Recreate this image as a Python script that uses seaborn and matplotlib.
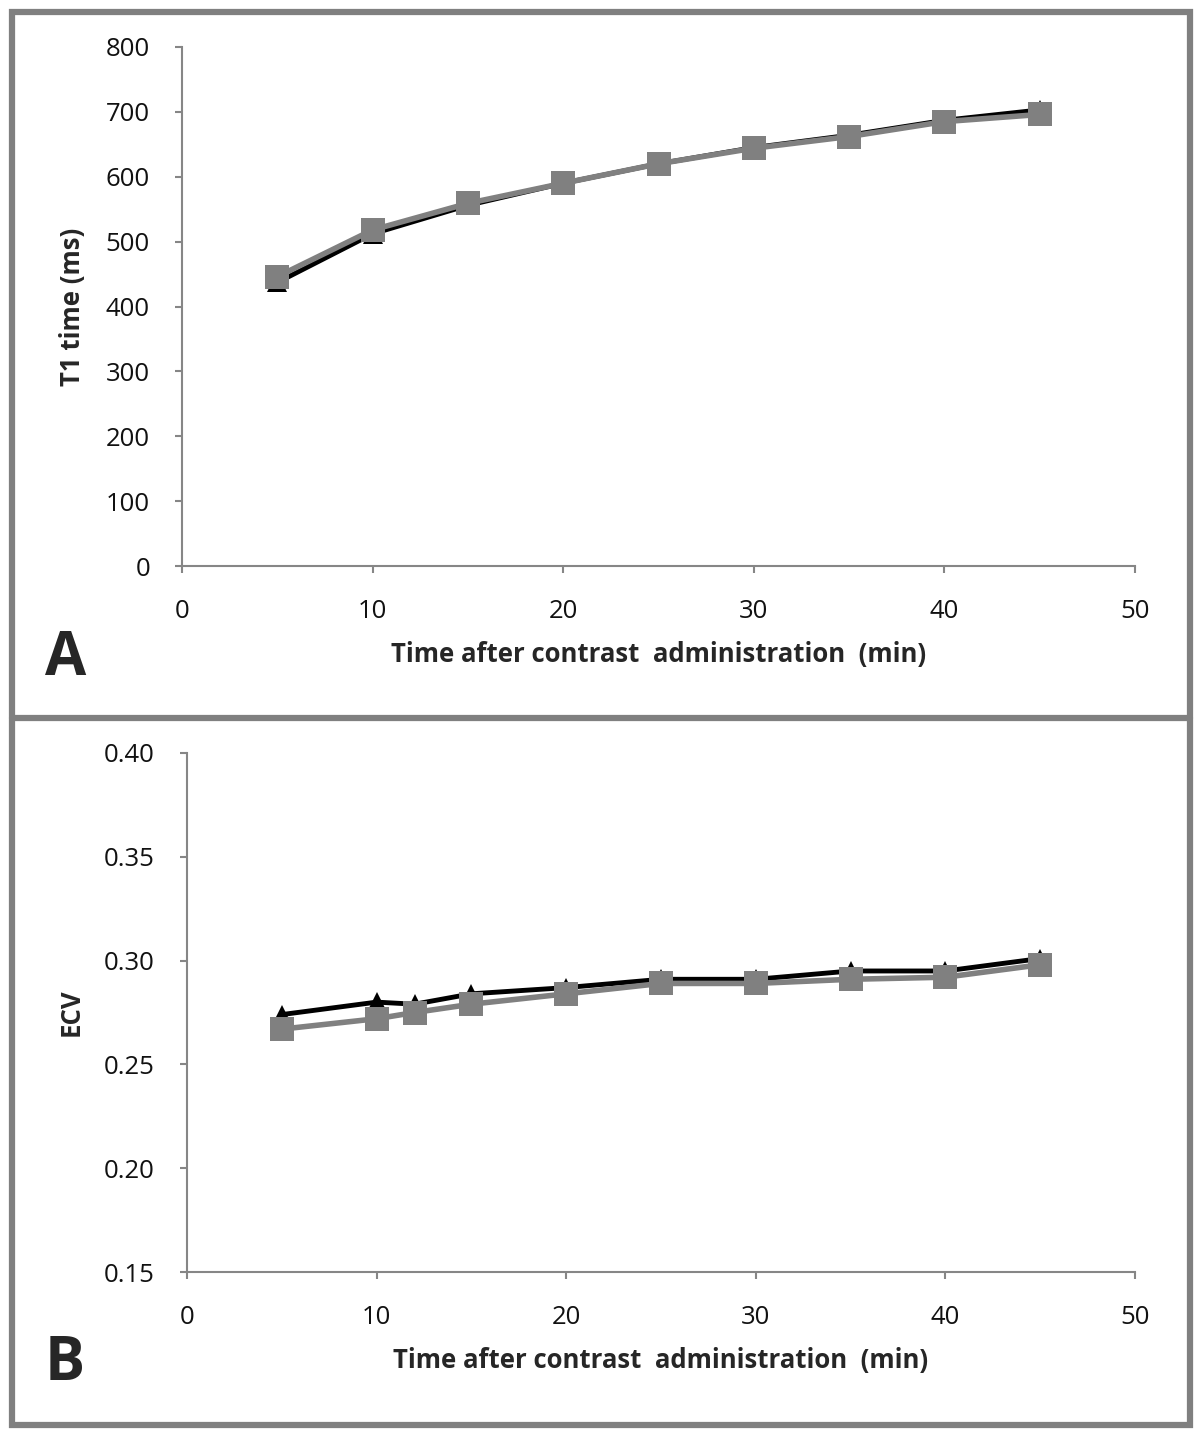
import seaborn as sns
import matplotlib.pyplot as plt
import matplotlib.patches as patches
import numpy as np
import pandas as pd

# Panel A data (T1 time, ms)
t_a = [5, 10, 15, 20, 25, 30, 35, 40, 45]
t1_black = [437, 512, 556, 590, 620, 645, 664, 687, 703]
t1_gray = [446, 518, 559, 590, 620, 644, 662, 685, 696]

# Panel B data (ECV)
t_b = [5, 10, 12, 15, 20, 25, 30, 35, 40, 45]
ecv_black = [0.274, 0.280, 0.279, 0.284, 0.287, 0.291, 0.291, 0.295, 0.295, 0.301]
ecv_gray = [0.267, 0.272, 0.275, 0.279, 0.284, 0.289, 0.289, 0.291, 0.292, 0.298]

sns.set_theme(style='white')
plt.rcParams['font.family'] = ['Open Sans', 'DejaVu Sans']

fig = plt.figure(figsize=(12, 14.37), dpi=100)

# outer frame and divider
edge = '#808080'
fig.patches.append(patches.Rectangle((12 / 1200, 1 - 1425 / 1437), 1178 / 1200, 1413 / 1437,
                                     transform=fig.transFigure, fill=False, ec=edge, lw=4.5))
fig.lines.append(plt.Line2D([12 / 1200, 1190 / 1200], [1 - 718 / 1437] * 2,
                            transform=fig.transFigure, color=edge, lw=4.5))

ax_a = fig.add_axes([182 / 1200, 1 - 566 / 1437, (1135 - 182) / 1200, 519 / 1437])
ax_b = fig.add_axes([187 / 1200, 1 - 1272 / 1437, (1135 - 187) / 1200, 519 / 1437])

df_a = pd.DataFrame({'t': t_a, 'black': t1_black, 'gray': t1_gray})
df_b = pd.DataFrame({'t': t_b, 'black': ecv_black, 'gray': ecv_gray})

for ax, df in [(ax_a, df_a), (ax_b, df_b)]:
    sns.lineplot(data=df, x='t', y='black', ax=ax, color='black', lw=3.5,
                 marker='^', markersize=14, markeredgewidth=0)
    sns.lineplot(data=df, x='t', y='gray', ax=ax, color='#808080', lw=4,
                 marker='s', markersize=17, markeredgewidth=0)
    sns.despine(ax=ax)
    for s in ['left', 'bottom']:
        ax.spines[s].set_color('#868686')
        ax.spines[s].set_linewidth(1.5)
    ax.tick_params(axis='both', direction='out', length=5, width=1.5, color='#868686',
                   labelsize=18.5, labelcolor='#111111', left=True, bottom=True)
    ax.tick_params(axis='x', pad=19)
    ax.tick_params(axis='y', pad=18)
    ax.set_xlim(0, 50)
    ax.set_xticks(range(0, 51, 10))
    ax.set_xlabel('Time after contrast  administration  (min)', fontsize=18.5,
                  fontweight='bold', labelpad=12)

ax_a.set_ylim(0, 800)
ax_a.set_yticks(range(0, 801, 100))
ax_a.set_ylabel('T1 time (ms)', fontsize=18.5, fontweight='bold', labelpad=14)

ax_b.set_ylim(0.15, 0.40)
ax_b.set_yticks(np.arange(0.15, 0.401, 0.05))
ax_b.set_yticklabels(['0.15', '0.20', '0.25', '0.30', '0.35', '0.40'])
ax_b.set_ylabel('ECV', fontsize=18.5, fontweight='bold', labelpad=14)

fig.text(45 / 1200, 1 - 675 / 1437, 'A', fontsize=43, fontweight='bold')
fig.text(45 / 1200, 1 - 1380 / 1437, 'B', fontsize=43, fontweight='bold')

fig.savefig('out.png', dpi=100, facecolor='white')
